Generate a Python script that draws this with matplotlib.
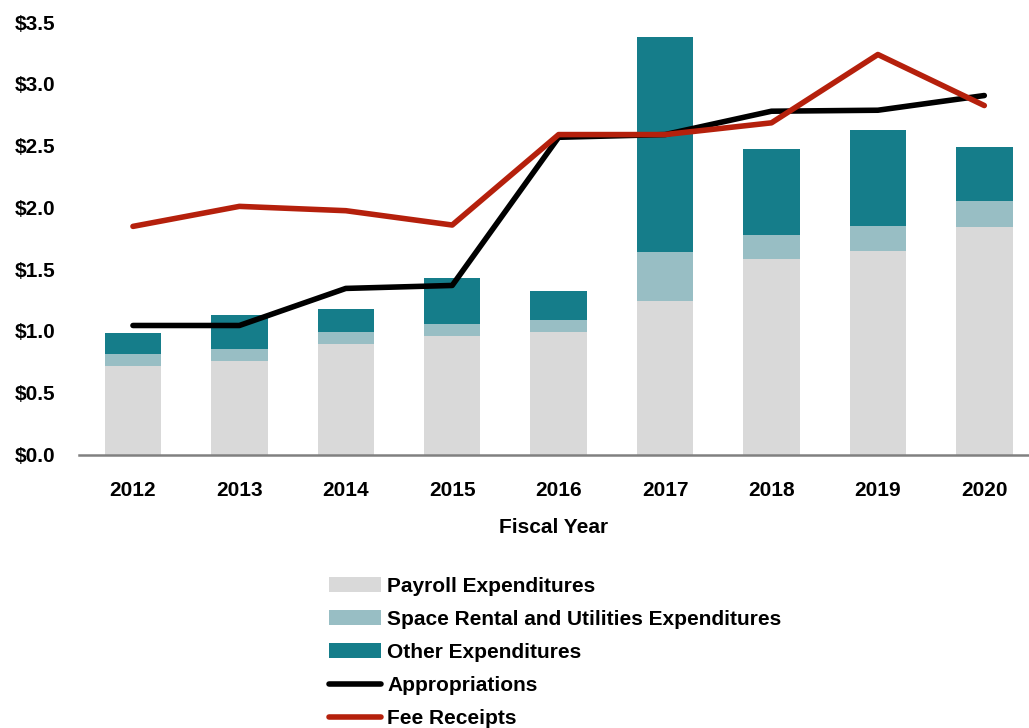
import matplotlib
matplotlib.use("Agg")
import matplotlib.pyplot as plt
from matplotlib.patches import Patch
from matplotlib.lines import Line2D
import numpy as np

years = ["2012", "2013", "2014", "2015", "2016", "2017", "2018", "2019", "2020"]
payroll = [0.72, 0.76, 0.895, 0.955, 0.99, 1.245, 1.585, 1.645, 1.845]
space_rental = [0.095, 0.095, 0.10, 0.10, 0.095, 0.39, 0.195, 0.205, 0.21]
other = [0.17, 0.27, 0.18, 0.37, 0.24, 1.74, 0.69, 0.78, 0.43]
appropriations = [1.044, 1.044, 1.344, 1.368, 2.567, 2.589, 2.778, 2.786, 2.905]
fee_receipts = [1.846, 2.008, 1.973, 1.857, 2.589, 2.589, 2.684, 3.237, 2.824]
yticks = [0.0, 0.5, 1.0, 1.5, 2.0, 2.5, 3.0, 3.5]
ytick_labels = ["$0.0", "$0.5", "$1.0", "$1.5", "$2.0", "$2.5", "$3.0", "$3.5"]

plt.rcParams['font.family'] = ['Liberation Sans', 'DejaVu Sans']
plt.rcParams['font.weight'] = 'bold'

c_pay = "#d9d9d9"
c_space = "#98bec4"
c_other = "#157d8a"
c_app = "#000000"
c_fee = "#b5200c"

fig = plt.figure(figsize=(10.29, 7.28), dpi=100)
W, H = 1029, 728
ax = fig.add_axes([79 / W, 1 - 454.5 / H, (W - 79) / W, (454.5 - 22) / H])

x = np.arange(len(years))
bw = 0.53
pay = np.array(payroll)
sp = np.array(space_rental)
ot = np.array(other)
ax.bar(x, pay, bw, color=c_pay, zorder=2)
ax.bar(x, sp, bw, bottom=pay, color=c_space, zorder=2)
ax.bar(x, ot, bw, bottom=pay + sp, color=c_other, zorder=2)
ax.plot(x, appropriations, color=c_app, lw=4, solid_capstyle='round', solid_joinstyle='round', zorder=3)
ax.plot(x, fee_receipts, color=c_fee, lw=4, solid_capstyle='round', solid_joinstyle='round', zorder=4)

ax.set_xlim(-0.507, 8.42)
ax.set_ylim(0, 3.5)
ax.set_yticks(yticks)
ax.set_yticklabels(ytick_labels, fontsize=15, fontweight='bold')
ax.set_xticks(x)
ax.set_xticklabels(years, fontsize=15, fontweight='bold')
ax.tick_params(axis='y', length=0, pad=17)
ax.tick_params(axis='x', length=0, pad=19)
for s in ['top', 'right', 'left']:
    ax.spines[s].set_visible(False)
ax.spines['bottom'].set_color('#808080')
ax.spines['bottom'].set_linewidth(1.8)
ax.set_xlabel("Fiscal Year", fontsize=15, fontweight='bold', labelpad=13)

handles = [
    Patch(facecolor=c_pay, label="Payroll Expenditures"),
    Patch(facecolor=c_space, label="Space Rental and Utilities Expenditures"),
    Patch(facecolor=c_other, label="Other Expenditures"),
    Line2D([0], [0], color=c_app, lw=4, solid_capstyle='round', label="Appropriations"),
    Line2D([0], [0], color=c_fee, lw=4, solid_capstyle='round', label="Fee Receipts"),
]
leg = fig.legend(handles=handles, loc='upper left', bbox_to_anchor=(329 / W, 1 - 577 / H),
                 frameon=False, fontsize=15, handlelength=2.5, handleheight=0.7,
                 handletextpad=0.3, labelspacing=0.67, borderpad=0, borderaxespad=0)
for t in leg.get_texts():
    t.set_fontweight('bold')

fig.savefig("out.png", dpi=100)
